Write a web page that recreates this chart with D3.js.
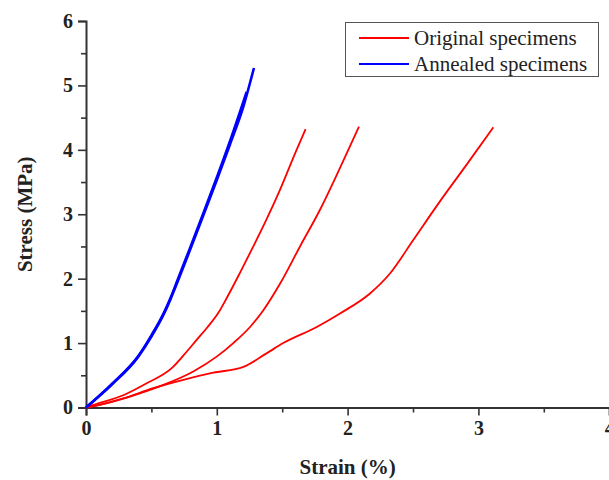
<!DOCTYPE html>
<html>
<head>
<meta charset="utf-8">
<script src="https://cdn.jsdelivr.net/npm/d3@7"></script>
<style>
  html, body { margin: 0; padding: 0; background: #fff; }
  svg { display: block; }
</style>
</head>
<body>
<svg id="chart" width="609" height="480"></svg>
<script>
// ---- data (strain %, stress MPa) ----
const seriesNames = ["Original specimens", "Annealed specimens"];
const xTicks = [0, 1, 2, 3, 4];
const yTicks = [0, 1, 2, 3, 4, 5, 6];

const original1 = [
  [0, 0], [0.056, 0.04], [0.285, 0.19], [0.464, 0.376], [0.655, 0.61], [0.75, 0.82],
  [0.846, 1.05], [0.93, 1.25], [1.012, 1.47], [1.076, 1.70], [1.177, 2.09], [1.279, 2.50],
  [1.38, 2.92], [1.483, 3.38], [1.61, 4.0], [1.679, 4.32]
];
const original2 = [
  [0, 0], [0.12, 0.05], [0.336, 0.17], [0.591, 0.35], [0.82, 0.56], [0.999, 0.79],
  [1.126, 1.0], [1.254, 1.25], [1.356, 1.51], [1.483, 1.92], [1.636, 2.50],
  [1.789, 3.07], [1.942, 3.72], [2.087, 4.36]
];
const original3 = [
  [0, 0], [0.056, 0.02], [0.285, 0.14], [0.515, 0.30], [0.744, 0.43], [0.973, 0.54],
  [1.203, 0.63], [1.38, 0.84], [1.508, 1.0], [1.764, 1.25], [1.942, 1.46],
  [2.171, 1.77], [2.324, 2.08], [2.502, 2.60], [2.706, 3.20], [2.91, 3.77], [3.114, 4.35]
];
const annealed1 = [
  [0, 0], [0.2, 0.37], [0.4, 0.80], [0.5, 1.12], [0.6, 1.49], [0.65, 1.72], [0.7, 1.98],
  [0.8, 2.50], [0.9, 3.03], [1.0, 3.57], [1.1, 4.13], [1.228, 4.9]
];
const annealed2 = [
  [0, 0], [0.2, 0.36], [0.4, 0.79], [0.5, 1.10], [0.6, 1.47], [0.65, 1.70], [0.7, 1.95],
  [0.8, 2.47], [0.9, 3.0], [1.0, 3.53], [1.1, 4.08], [1.2, 4.65], [1.284, 5.27]
];

const redCurves = [original1, original2, original3];
const blueCurves = [annealed1, annealed2];

// ---- layout ----
const svg = d3.select("#chart");
const x = d3.scaleLinear().domain([0, 4]).range([86, 609.2]);
const y = d3.scaleLinear().domain([0, 6]).range([407.5, 21]);
const axisColor = "#333";
const serif = "'Liberation Serif', 'Times New Roman', serif";

// minor ticks
const xMinor = d3.range(0.5, 4, 1);
const yMinor = d3.range(0.5, 6, 1);

const xAxis = svg.append("g").attr("transform", `translate(0,${y(0)})`);
xAxis.call(d3.axisBottom(x).tickValues(xTicks).tickFormat(d3.format("d")).tickSize(8).tickPadding(5));
xAxis.append("g").call(d3.axisBottom(x).tickValues(xMinor).tickFormat("").tickSize(5))
  .select(".domain").remove();

const yAxis = svg.append("g").attr("transform", `translate(${x(0)},0)`);
yAxis.call(d3.axisLeft(y).tickValues(yTicks).tickFormat(d3.format("d")).tickSize(8).tickPadding(5));
yAxis.append("g").call(d3.axisLeft(y).tickValues(yMinor).tickFormat("").tickSize(5))
  .select(".domain").remove();

svg.selectAll(".domain").attr("stroke", axisColor).attr("stroke-width", 2);
svg.selectAll(".tick line").attr("stroke", axisColor).attr("stroke-width", 1.6);
svg.selectAll(".tick text")
  .attr("fill", "#222")
  .style("font-family", serif)
  .style("font-weight", "bold")
  .style("font-size", "20px");

// curves
const line = d3.line().x(d => x(d[0])).y(d => y(d[1])).curve(d3.curveMonotoneX);
const plot = svg.append("g");
redCurves.forEach(c => plot.append("path").datum(c).attr("d", line)
  .attr("fill", "none").attr("stroke", "#ff0000").attr("stroke-width", 1.8));
blueCurves.forEach(c => plot.append("path").datum(c).attr("d", line)
  .attr("fill", "none").attr("stroke", "#0000ff").attr("stroke-width", 2.6));

// axis titles
svg.append("text")
  .attr("x", x(2)).attr("y", 474)
  .attr("text-anchor", "middle")
  .style("font-family", serif).style("font-weight", "bold").style("font-size", "21px")
  .attr("fill", "#222")
  .text("Strain (%)");

svg.append("text")
  .attr("transform", `translate(32,${(y(0) + y(6)) / 2}) rotate(-90)`)
  .attr("text-anchor", "middle")
  .style("font-family", serif).style("font-weight", "bold").style("font-size", "21px")
  .attr("fill", "#222")
  .text("Stress (MPa)");

// legend
const legend = svg.append("g");
legend.append("rect")
  .attr("x", 345.5).attr("y", 22.5).attr("width", 253).attr("height", 54)
  .attr("fill", "#fff").attr("stroke", "#555").attr("stroke-width", 1);
const legColors = ["#ff0000", "#0000ff"];
seriesNames.forEach((name, i) => {
  const ly = 38 + i * 26;
  legend.append("line").attr("x1", 359).attr("x2", 409).attr("y1", ly).attr("y2", ly)
    .attr("stroke", legColors[i]).attr("stroke-width", 1.8);
  legend.append("text").attr("x", 414).attr("y", ly + 7)
    .style("font-family", serif).style("font-size", "21px").attr("fill", "#222")
    .text(name);
});
</script>
</body>
</html>
